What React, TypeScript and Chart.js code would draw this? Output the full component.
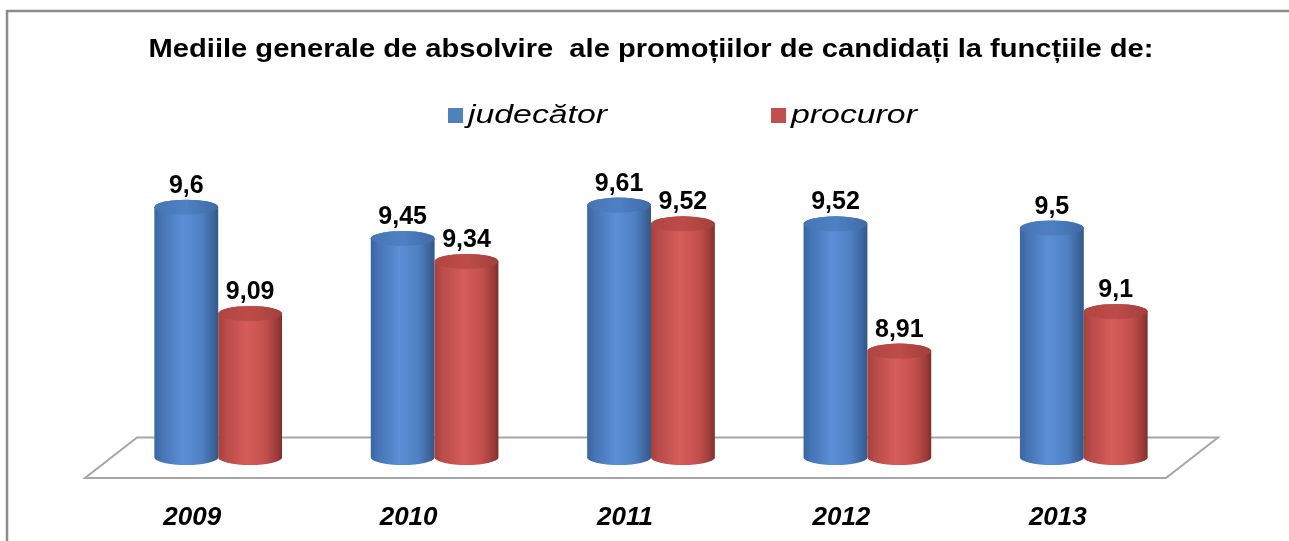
import React, { useEffect, useRef } from "react";
import { Chart, registerables } from "chart.js";

Chart.register(...registerables);

// ---- data ----
const categories: string[] = ["2009", "2010", "2011", "2012", "2013"];
const judecatorValues: number[] = [9.6, 9.45, 9.61, 9.52, 9.5];
const procurorValues: number[] = [9.09, 9.34, 9.52, 8.91, 9.1];
const seriesNames: string[] = ["judecător", "procuror"];
const titleText =
  "Mediile generale de absolvire  ale promoțiilor de candidați la funcțiile de:";
const axisMin = 8.4;
const axisMax = 10;

// ---- styles ----
const FONT = "'Liberation Sans', Arial, sans-serif";
const palettes = [
  {
    base: "#4F81BD",
    body: [
      [0, "#3a65a2"],
      [0.12, "#4674b5"],
      [0.45, "#5b8fd6"],
      [0.75, "#4e80c3"],
      [0.93, "#3b6399"],
      [1, "#34578a"],
    ],
    cap: [
      [0, "#4675b4"],
      [0.5, "#4e81c4"],
      [1, "#3f6aa6"],
    ],
  },
  {
    base: "#C0504D",
    body: [
      [0, "#a4413e"],
      [0.12, "#b94b48"],
      [0.45, "#d55d5a"],
      [0.75, "#c24f4c"],
      [0.93, "#9a3a38"],
      [1, "#7e2f2d"],
    ],
    cap: [
      [0, "#b04542"],
      [0.5, "#bd4c49"],
      [1, "#a23f3c"],
    ],
  },
];

const CAP_RY = 7.5;

function drawCylinder(
  ctx: CanvasRenderingContext2D,
  cx: number,
  yTop: number,
  yBase: number,
  w: number,
  pal: any
) {
  const rx = w / 2;
  const ry = CAP_RY;
  const g = ctx.createLinearGradient(cx - rx, 0, cx + rx, 0);
  pal.body.forEach((s: any) => g.addColorStop(s[0], s[1]));
  ctx.save();
  ctx.beginPath();
  ctx.moveTo(cx - rx, yTop);
  ctx.lineTo(cx - rx, yBase);
  ctx.ellipse(cx, yBase, rx, ry, 0, Math.PI, 0, true);
  ctx.lineTo(cx + rx, yTop);
  ctx.ellipse(cx, yTop, rx, ry, 0, 0, Math.PI, true);
  ctx.closePath();
  ctx.fillStyle = g;
  ctx.fill();
  // cap
  const cg = ctx.createLinearGradient(cx - rx, 0, cx + rx, 0);
  pal.cap.forEach((s: any) => cg.addColorStop(s[0], s[1]));
  ctx.beginPath();
  ctx.ellipse(cx, yTop, rx, ry, 0, 0, Math.PI * 2);
  ctx.fillStyle = cg;
  ctx.fill();
  ctx.restore();
}

const fmt = (v: number) => String(v).replace(".", ",");

const cylinderPlugin = {
  id: "cylinders",
  beforeDatasetsDraw(chart: any) {
    const ctx: CanvasRenderingContext2D = chart.ctx;
    const { left, right, bottom } = chart.chartArea;
    // floor
    ctx.save();
    ctx.beginPath();
    ctx.moveTo(left + 27, bottom - 20);
    ctx.lineTo(right + 26, bottom - 20);
    ctx.lineTo(right - 26, bottom + 20.5);
    ctx.lineTo(left - 25, bottom + 20.5);
    ctx.closePath();
    ctx.fillStyle = "#ffffff";
    ctx.fill();
    ctx.strokeStyle = "#a6a6a6";
    ctx.lineWidth = 2;
    ctx.stroke();
    ctx.restore();
    chart.data.datasets.forEach((_ds: any, di: number) => {
      const meta = chart.getDatasetMeta(di);
      meta.data.forEach((bar: any) => {
        const p = bar.getProps(["x", "y", "base", "width"], true);
        const yBase = Math.min(p.base, bottom);
        drawCylinder(ctx, p.x, p.y, yBase, p.width, palettes[di]);
      });
    });
    return false;
  },
  afterDraw(chart: any) {
    const ctx: CanvasRenderingContext2D = chart.ctx;
    const { left, right } = chart.chartArea;

    // title (slightly stretched horizontally like the original)
    ctx.save();
    ctx.fillStyle = "#000";
    ctx.font = `bold 26px ${FONT}`;
    ctx.textAlign = "center";
    ctx.textBaseline = "alphabetic";
    ctx.translate((left + right) / 2, 57);
    ctx.scale(1.12, 1);
    ctx.fillText(titleText, 0, 0);
    ctx.restore();

    // value labels
    ctx.save();
    ctx.fillStyle = "#000";
    ctx.font = `bold 25px ${FONT}`;
    ctx.textAlign = "center";
    ctx.textBaseline = "alphabetic";
    chart.data.datasets.forEach((ds: any, di: number) => {
      const meta = chart.getDatasetMeta(di);
      meta.data.forEach((bar: any, i: number) => {
        const p = bar.getProps(["x", "y"], true);
        ctx.fillText(fmt(ds.data[i]), p.x, p.y - CAP_RY - 7);
      });
    });
    ctx.restore();

    // legend
    ctx.save();
    const legendLeft = 448;
    const legendBaseline = 123;
    const gap = 164;
    const sx = 1.3;
    ctx.font = `italic 26px ${FONT}`;
    ctx.textBaseline = "alphabetic";
    ctx.textAlign = "left";
    let x = legendLeft;
    chart.data.datasets.forEach((ds: any, di: number) => {
      ctx.fillStyle = palettes[di].base;
      ctx.fillRect(x, legendBaseline - 15, 15, 15);
      const tx = x + 20;
      ctx.fillStyle = "#000";
      ctx.save();
      ctx.translate(tx, legendBaseline);
      ctx.scale(sx, 1);
      ctx.fillText(ds.label, 0, 0);
      ctx.restore();
      const tw = ctx.measureText(ds.label).width * sx;
      x = tx + tw + gap;
    });
    ctx.restore();

    // outer frame
    ctx.save();
    ctx.strokeStyle = "#8c8c8c";
    ctx.lineWidth = 2.5;
    ctx.beginPath();
    ctx.moveTo(7, chart.height + 5);
    ctx.lineTo(7, 11);
    ctx.lineTo(chart.width + 5, 11);
    ctx.stroke();
    ctx.restore();
  },
};

export default function App() {
  const canvasRef = useRef<HTMLCanvasElement | null>(null);

  useEffect(() => {
    document.body.style.margin = "0";
    const canvas = canvasRef.current;
    if (!canvas) return;
    const chart = new Chart(canvas, {
      type: "bar",
      data: {
        labels: categories,
        datasets: [
          {
            label: seriesNames[0],
            data: judecatorValues,
            backgroundColor: palettes[0].base,
            base: axisMin,
          },
          {
            label: seriesNames[1],
            data: procurorValues,
            backgroundColor: palettes[1].base,
            base: axisMin,
          },
        ],
      },
      options: {
        animation: false,
        responsive: false,
        maintainAspectRatio: false,
        devicePixelRatio: 1,
        events: [],
        layout: {
          padding: { left: 110, right: 97, top: 123.7, bottom: 0 },
        },
        datasets: {
          bar: { categoryPercentage: 0.59, barPercentage: 1 },
        },
        plugins: {
          legend: { display: false },
          tooltip: { enabled: false },
          title: { display: false },
        },
        scales: {
          x: {
            grid: { display: false, drawTicks: false },
            border: { display: false },
            ticks: {
              color: "#000",
              font: { family: FONT, size: 26, weight: "bold", style: "italic" },
              padding: 45,
              labelOffset: -26,
            },
            afterFit: (scale: any) => {
              scale.height = 83.5;
            },
          },
          y: {
            display: false,
            beginAtZero: false,
            min: axisMin,
            max: axisMax,
          },
        },
      },
      plugins: [cylinderPlugin],
    });
    return () => chart.destroy();
  }, []);

  return (
    <div style={{ width: 1289, height: 541 }}>
      <canvas
        ref={canvasRef}
        width={1289}
        height={541}
        style={{ width: 1289, height: 541, display: "block" }}
      />
    </div>
  );
}
